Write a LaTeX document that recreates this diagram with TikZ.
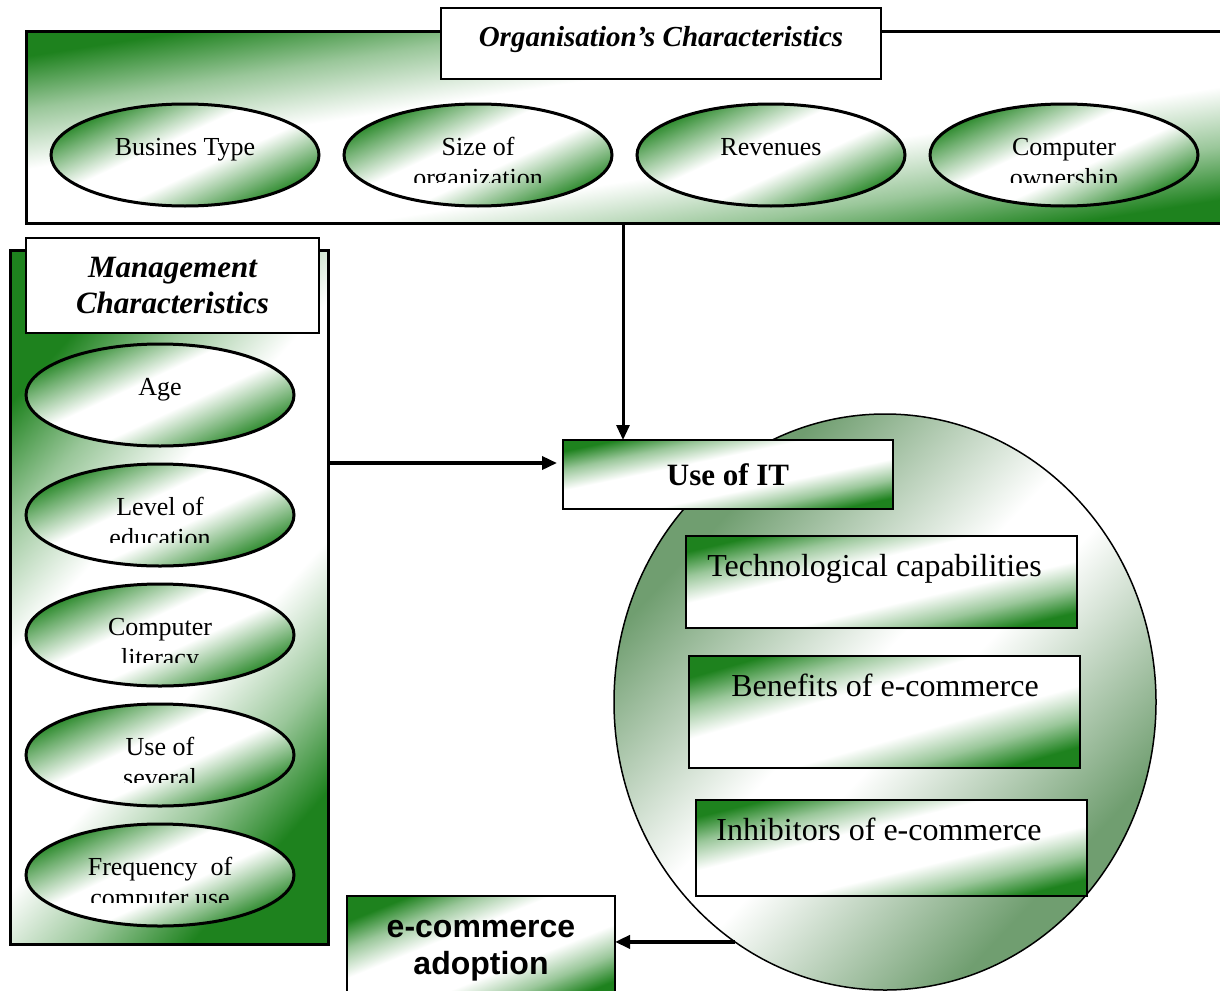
\documentclass[tikz,border=0pt]{standalone}
\usepackage{fontspec}
\setmainfont{Liberation Serif}
\newfontfamily\arialfam{Liberation Sans}
\usetikzlibrary{shapes.geometric,arrows.meta}
\definecolor{gg}{RGB}{30,130,30}
\definecolor{gm}{RGB}{112,158,112}
\colorlet{gl}{gg!45!white}
\colorlet{go}{gg!62!white}
\pgfdeclarehorizontalshading{boxshade}{100bp}{color(0bp)=(gg); color(25bp)=(gg); color(33bp)=(gl); color(42bp)=(white); color(58bp)=(white); color(67bp)=(gl); color(75bp)=(gg); color(100bp)=(gg)}
\pgfdeclarehorizontalshading{ovalshade}{100bp}{color(0bp)=(gg); color(25bp)=(gg); color(32bp)=(go); color(44bp)=(white); color(56bp)=(white); color(68bp)=(go); color(75bp)=(gg); color(100bp)=(gg)}
\pgfdeclarehorizontalshading{bigshade}{100bp}{color(0bp)=(gm); color(28bp)=(gm); color(47bp)=(white); color(53bp)=(white); color(72bp)=(gm); color(100bp)=(gm)}
\tikzset{
  gframe/.style={shading=boxshade, shading angle=#1, draw=black, rectangle, inner sep=0pt, outer sep=0pt},
  goval/.style={shading=ovalshade, shading angle=-65, draw=black, ellipse, line width=3pt, inner sep=0pt, outer sep=0pt, minimum width=268pt, minimum height=102pt},
  gbig/.style={shading=bigshade, shading angle=-43.3, draw=black, ellipse, line width=1.5pt, inner sep=0pt, outer sep=0pt},
  wbox/.style={fill=white, draw=black, line width=1.5pt, rectangle, inner sep=0pt, outer sep=0pt},
  ovtxt/.style={font=\fontsize{26pt}{31pt}\selectfont, anchor=base, inner sep=0pt},
  intxt/.style={font=\fontsize{32pt}{38pt}\selectfont, anchor=base, inner sep=0pt},
  arr/.style={draw=black, -{Triangle[length=15pt,width=13pt]}},
}
\newcommand{\ovlone}[4]{% name, x, y, text
  \node[goval] (#1) at (#2,#3) {};
  \node[ovtxt] (#1t) at (#2,#3) {#4};
}
\newcommand{\ovltwo}[5]{% name, x, y, line1, line2
  \node[goval] (#1) at (#2,#3) {};
  \node[ovtxt] (#1t) at (#2,#3) {#4};
  \begin{scope}
    \clip (#2-130,#3) rectangle (#2+130,#3+27);
    \node[ovtxt] (#1u) at (#2,#3+31) {#5};
  \end{scope}
}
\begin{document}
\begin{tikzpicture}[x=1pt,y=-1pt]
\useasboundingbox (0,0) rectangle (1220,990);
\clip (0,0) rectangle (1220,990);
% organisation frame
\node[gframe=-81, line width=3pt, minimum width=1200pt, minimum height=191pt] (orgframe) at (626,127.5) {};
\node[wbox, minimum width=440pt, minimum height=71pt] (orgtitle) at (661,43.5) {};
\node[font=\fontsize{29pt}{34pt}\selectfont\bfseries\itshape, anchor=base, inner sep=0pt] (orgtitletxt) at (661,47) {Organisation’s Characteristics};
\ovlone{bt}{185}{155}{Busines Type}
\ovltwo{sz}{478}{155}{Size of}{organization}
\ovlone{rv}{771}{155}{Revenues}
\ovltwo{co}{1064}{155}{Computer}{ownership}
% management frame
\node[gframe=-42, line width=3pt, minimum width=318pt, minimum height=694pt] (mgframe) at (169,597) {};
\node[wbox, minimum width=293pt, minimum height=95pt, align=center, font=\fontsize{31pt}{36pt}\selectfont\bfseries\itshape] (mgtitle) at (172.5,285.5) {Management\\Characteristics};
\ovlone{ag}{160}{395}{Age}
\ovltwo{le}{160}{515}{Level of}{education}
\ovltwo{cl}{160}{635}{Computer}{literacy}
\ovltwo{us}{160}{755}{Use of}{several}
\ovltwo{fq}{160}{875}{Frequency\ \ of}{computer use}
% big ellipse
\node[gbig, minimum width=542pt, minimum height=576pt] (bigell) at (885,702) {};
% use of IT
\node[gframe=-78.2, line width=1.5pt, minimum width=330pt, minimum height=69pt, font=\fontsize{31pt}{36pt}\selectfont\bfseries] (useit) at (728,474.5) {Use of IT};
% inner boxes
\node[gframe=-76.8, line width=1.5pt, minimum width=391pt, minimum height=92pt] (tech) at (881.5,582) {};
\node[intxt] (techt) at (874.5,576) {Technological capabilities};
\node[gframe=-74, line width=1.5pt, minimum width=391pt, minimum height=112pt] (bene) at (884.5,712) {};
\node[intxt] (benet) at (885,696) {Benefits of e-commerce};
\node[gframe=-76.2, line width=1.5pt, minimum width=391pt, minimum height=96pt] (inhi) at (891.5,848) {};
\node[intxt] (inhit) at (879,840) {Inhibitors of e-commerce};
% e-commerce adoption
\node[gframe=-68, line width=1.5pt, minimum width=268pt, minimum height=110pt] (ecbox) at (481,951) {};
\node[font=\fontsize{32pt}{37pt}\selectfont\arialfam\bfseries, anchor=base, inner sep=0pt] (ect1) at (481,937) {e-commerce};
\node[font=\fontsize{32pt}{37pt}\selectfont\arialfam\bfseries, anchor=base, inner sep=0pt] (ect2) at (481,974) {adoption};
% arrows
\coordinate (vx) at (623,0);
\coordinate (hy) at (0,463);
\draw[arr, line width=3pt] (orgframe.south -| vx) -- (useit.north -| vx);
\draw[arr, line width=3.5pt] (mgframe.east |- hy) -- ([xshift=-6pt]useit.west |- hy);
\draw[arr, line width=4pt] (bigell.238.4) -- (ecbox.east |- bigell.238.4);
\end{tikzpicture}
\end{document}
